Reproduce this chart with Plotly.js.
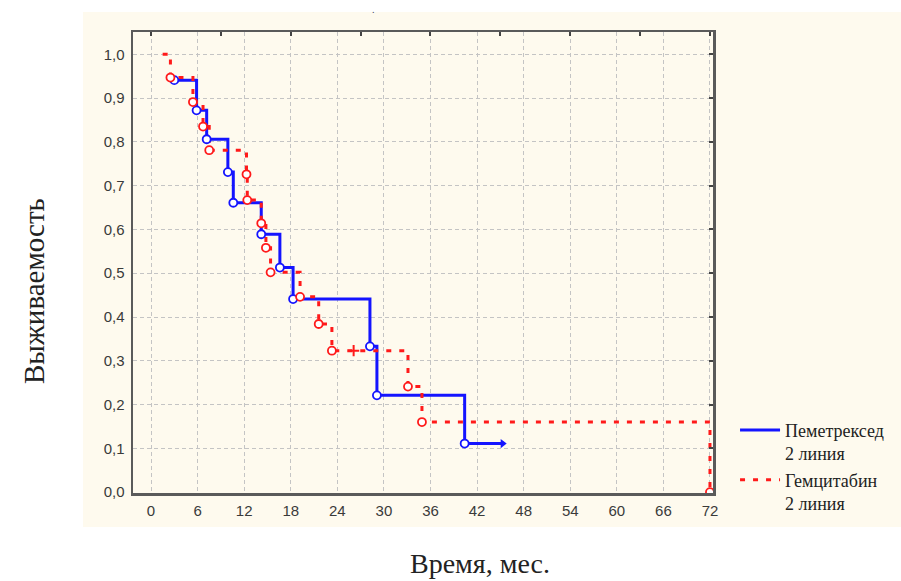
<!DOCTYPE html>
<html>
<head>
<meta charset="utf-8">
<script src="https://cdn.plot.ly/plotly-3.0.1.min.js"></script>
<style>html,body{margin:0;padding:0;background:#fff;}#chart{width:901px;height:581px;}</style>
</head>
<body>
<div id="chart"></div>
<script>
// Пеметрексед, 2 линия: event times (months) and survival after each event
const pemTime = [3.0, 5.87, 7.17, 9.9, 10.6, 14.2, 16.6, 18.3, 28.2, 29.1, 40.4];
const pemSurv = [0.941, 0.872, 0.806, 0.731, 0.661, 0.589, 0.513, 0.441, 0.333, 0.221, 0.111];
const pemLastTime = 45.3;           // last follow-up (censored, arrow)

// Гемцитабин, 2 линия
const gemStartTime = 1.5;
const gemStartSurv = 1.0;
const gemTime = [2.5, 5.4, 6.7, 7.5, 12.3, 12.4, 14.2, 14.8, 15.4, 19.2, 21.6, 23.3, 33.1, 34.9, 72];
const gemSurv = [0.947, 0.891, 0.835, 0.781, 0.726, 0.667, 0.614, 0.558, 0.502, 0.446, 0.384, 0.323, 0.241, 0.160, 0.0];
const gemCensTime = [26.1];
const gemCensSurv = [0.323];

// axis ticks
const xTicks = [0, 6, 12, 18, 24, 30, 36, 42, 48, 54, 60, 66, 72];
const yTicks = [0, 0.1, 0.2, 0.3, 0.4, 0.5, 0.6, 0.7, 0.8, 0.9, 1.0];
const topTicks = [0, 9, 18, 27, 36, 45, 54, 63, 72];

const seriesNames = ['Пеметрексед<br>2 линия', 'Гемцитабин<br>2 линия'];

// build step lines
const pemLineX = pemTime.concat([pemLastTime]);
const pemLineY = pemSurv.concat([pemSurv[pemSurv.length - 1]]);

let gemPts = [[gemStartTime, gemStartSurv]];
gemTime.forEach((t, i) => gemPts.push([t, gemSurv[i]]));
gemCensTime.forEach((t, i) => gemPts.push([t, gemCensSurv[i]]));
gemPts.sort((a, b) => a[0] - b[0]);
const gemLineX = gemPts.map(p => p[0]);
const gemLineY = gemPts.map(p => p[1]);

const BLUE = '#1414ff';
const RED = '#ff1a1a';

const traces = [
  {x: pemLineX, y: pemLineY, type: 'scatter', mode: 'lines', line: {shape: 'hv', color: BLUE, width: 3},
   name: seriesNames[0]},
  {x: gemLineX, y: gemLineY, type: 'scatter', mode: 'lines', line: {shape: 'hv', color: RED, width: 3, dash: '5px,8px'},
   name: seriesNames[1]},
  {x: pemTime, y: pemSurv, type: 'scatter', mode: 'markers', showlegend: false,
   marker: {symbol: 'circle', size: 8, color: '#ffffff', line: {color: BLUE, width: 1.8}}},
  {x: gemTime, y: gemSurv, type: 'scatter', mode: 'markers', showlegend: false,
   marker: {symbol: 'circle', size: 8, color: '#ffffff', line: {color: RED, width: 1.8}}},
  {x: [pemLastTime], y: [pemSurv[pemSurv.length - 1]], type: 'scatter', mode: 'markers', showlegend: false,
   marker: {symbol: 'triangle-right', size: 8, color: BLUE}},
  {x: gemCensTime, y: gemCensSurv, type: 'scatter', mode: 'markers', showlegend: false,
   marker: {symbol: 'cross-thin', size: 8, color: RED, line: {color: RED, width: 2}}},
  {x: [], y: [], xaxis: 'x2', yaxis: 'y2', type: 'scatter', mode: 'markers', showlegend: false}
];

const tickFont = {family: 'Liberation Sans, Arial, sans-serif', size: 15, color: '#3a3a3a'};
const serif = 'Liberation Serif, Times New Roman, serif';

const layout = {
  width: 901, height: 581,
  margin: {l: 133, r: 188, t: 32, b: 88},
  paper_bgcolor: '#ffffff',
  plot_bgcolor: '#ffffff',
  separators: ', ',
  showlegend: true,
  xaxis: {
    range: [-2.32, 72.39], tickvals: xTicks, ticktext: xTicks.map(String),
    showgrid: true, gridcolor: '#c4c4c4', griddash: '4px,3px', gridwidth: 1,
    zeroline: false, showline: true, linecolor: '#5a5a5a', linewidth: 2.5, mirror: true,
    ticks: '', tickfont: tickFont, ticklabelstandoff: 2
  },
  yaxis: {
    range: [-0.002, 1.051], tickvals: yTicks, tickformat: '.1f',
    showgrid: true, gridcolor: '#c4c4c4', griddash: '4px,3px', gridwidth: 1,
    zeroline: false, showline: true, linecolor: '#5a5a5a', linewidth: 2.5, mirror: true,
    ticks: '', tickfont: tickFont, ticklabelstandoff: 3
  },
  xaxis2: {
    overlaying: 'x', side: 'top', range: [-2.32, 72.39], tickvals: topTicks,
    ticks: 'inside', ticklen: 4, tickwidth: 2, tickcolor: '#444', showticklabels: false,
    showgrid: false, zeroline: false, showline: false
  },
  yaxis2: {
    overlaying: 'y', side: 'right', range: [-0.002, 1.051], tickvals: yTicks,
    ticks: 'inside', ticklen: 4, tickwidth: 2, tickcolor: '#444', showticklabels: false,
    showgrid: false, zeroline: false, showline: false
  },
  legend: {
    x: 1.038, xanchor: 'left', y: 0.176, yanchor: 'top',
    bgcolor: 'rgba(0,0,0,0)', valign: 'top', tracegroupgap: 2, itemwidth: 40,
    font: {family: serif, size: 18, color: '#222'}
  },
  shapes: [
    {type: 'rect', xref: 'paper', yref: 'paper', layer: 'below',
     x0: (83 - 133) / 580, x1: (901 - 133) / 580, y0: (493 - 527) / 461, y1: (493 - 12) / 461,
     fillcolor: '#fefaee', line: {width: 0}}
  ],
  annotations: [
    {text: 'Время, мес.', xref: 'paper', yref: 'paper', x: (480 - 133) / 580, y: (493 - 563) / 461,
     xanchor: 'center', yanchor: 'middle', showarrow: false, font: {family: serif, size: 28, color: '#222'}},
    {text: 'Выживаемость', xref: 'paper', yref: 'paper', x: (34 - 133) / 580, y: (493 - 291) / 461,
     xanchor: 'center', yanchor: 'middle', textangle: -90, showarrow: false, font: {family: serif, size: 29, color: '#222'}},
    {text: '.', xref: 'paper', yref: 'paper', x: (373 - 133) / 580, y: (493 - 9) / 461,
     xanchor: 'center', yanchor: 'middle', showarrow: false, font: {family: serif, size: 10, color: '#446'}}
  ]
};

Plotly.newPlot('chart', traces, layout, {displayModeBar: false, staticPlot: true});
</script>
</body>
</html>
